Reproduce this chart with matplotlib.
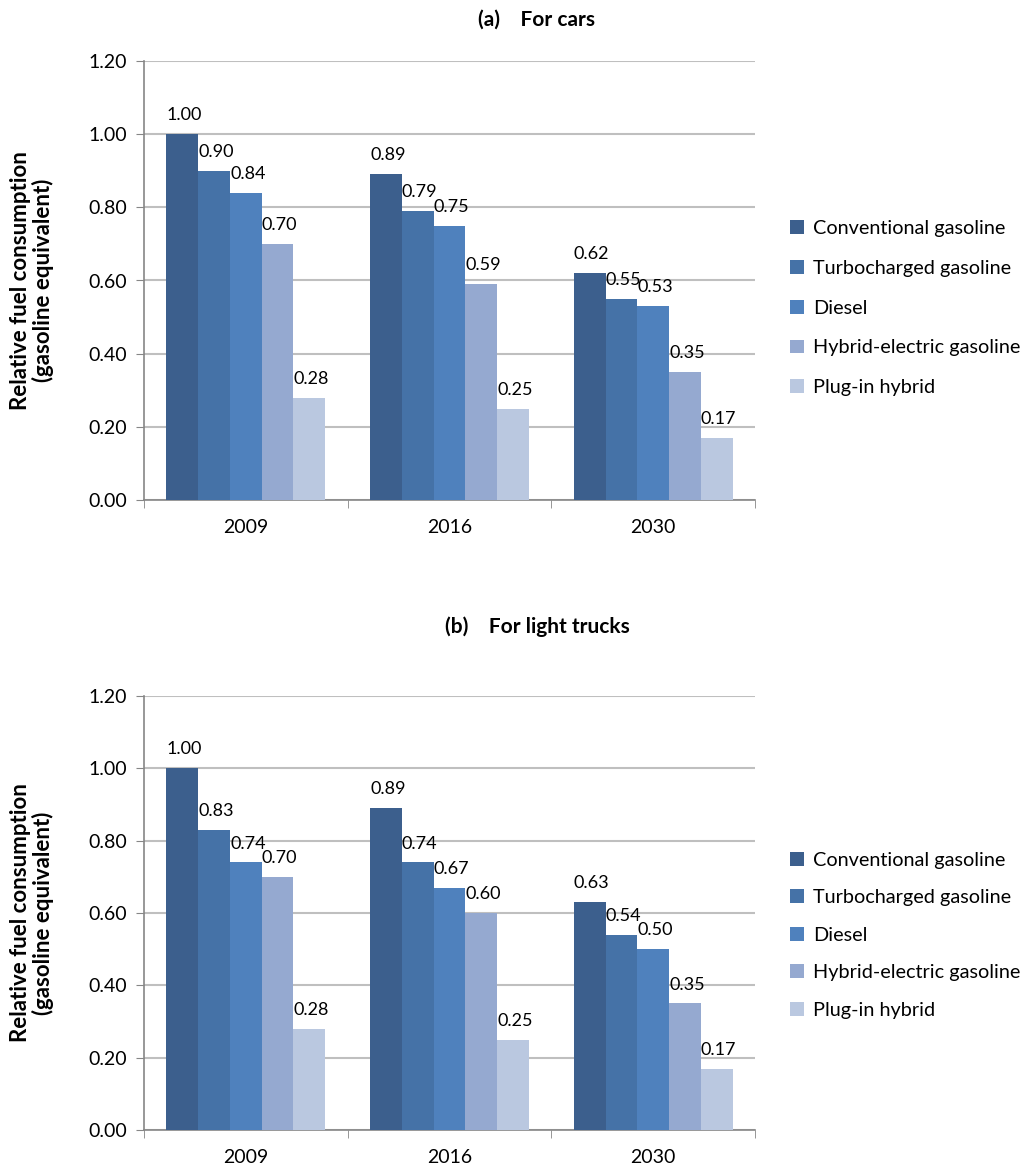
import matplotlib
matplotlib.use("Agg")
import matplotlib.pyplot as plt
import numpy as np
from matplotlib.patches import Patch

plt.rcParams['font.family'] = ['Lato', 'DejaVu Sans']

years = ["2009", "2016", "2030"]
series = ["Conventional gasoline", "Turbocharged gasoline", "Diesel",
          "Hybrid-electric gasoline", "Plug-in hybrid"]
colors = ["#3C5F8D", "#4572A7", "#4F81BD", "#95A9D0", "#BAC8E0"]

cars_conventional = [1.00, 0.89, 0.62]
cars_turbo = [0.90, 0.79, 0.55]
cars_diesel = [0.84, 0.75, 0.53]
cars_hybrid = [0.70, 0.59, 0.35]
cars_plugin = [0.28, 0.25, 0.17]

trucks_conventional = [1.00, 0.89, 0.63]
trucks_turbo = [0.83, 0.74, 0.54]
trucks_diesel = [0.74, 0.67, 0.50]
trucks_hybrid = [0.70, 0.60, 0.35]
trucks_plugin = [0.28, 0.25, 0.17]

yticks = [0.0, 0.2, 0.4, 0.6, 0.8, 1.0, 1.2]

W, H = 1029, 1176
fig = plt.figure(figsize=(W / 100, H / 100), dpi=100)


def draw(ax_rect, data, title, title_y, legend_y, spacing):
    ax = fig.add_axes(ax_rect)
    n = len(data)
    width = 0.156
    x = np.arange(len(years))
    for i, (vals, c, name) in enumerate(zip(data, colors, series)):
        pos = x - width * (n - 1) / 2 + i * width
        bars = ax.bar(pos, vals, width=width, color=c, edgecolor="none",
                      label=name, zorder=3)
        for b, v in zip(bars, vals):
            ax.text(b.get_x() + b.get_width() / 2 + 0.01, v + 0.03,
                    f"{v:.2f}", ha="center", va="bottom", fontsize=13,
                    color="#000000", zorder=4)
    ax.set_xlim(-0.5, len(years) - 0.5)
    ax.set_ylim(0, 1.2)
    ax.set_yticks(yticks)
    ax.set_yticklabels([f"{t:.2f}" for t in yticks], fontsize=14)
    ax.set_xticks(x)
    ax.set_xticklabels(years, fontsize=14)
    ax.set_xticks(np.arange(len(years) + 1) - 0.5, minor=True)
    ax.tick_params(axis="x", which="major", length=0, pad=14)
    ax.tick_params(axis="x", which="minor", length=6, color="#868686", direction="out")
    ax.tick_params(axis="y", which="major", length=6, color="#868686", direction="out", pad=6)
    ax.yaxis.grid(True, color="#BFBFBF", linewidth=1.5, zorder=0)
    ax.set_axisbelow(True)
    for s in ["top", "right"]:
        ax.spines[s].set_visible(False)
    for s in ["left", "bottom"]:
        ax.spines[s].set_color("#868686")
        ax.spines[s].set_linewidth(1.2)
    ax.set_ylabel("Relative fuel consumption\n(gasoline equivalent)",
                  fontsize=16, fontweight="bold", linespacing=1.05)
    ax.yaxis.set_label_coords(-0.148, 0.5)
    fig.text(537 / W, 1 - title_y / H, title, ha="center", va="center",
             fontsize=15, fontweight="bold")
    handles = [Patch(facecolor=c, edgecolor="none") for c in colors]
    fig.legend(handles, series, loc="upper left",
               bbox_to_anchor=(782 / W, 1 - legend_y / H),
               frameon=False, fontsize=14.3, handlelength=0.7,
               handleheight=0.7, handletextpad=0.45, labelspacing=spacing,
               borderaxespad=0)
    return ax


draw([144 / W, 1 - 500 / H, 611 / W, 439 / H],
     [cars_conventional, cars_turbo, cars_diesel, cars_hybrid, cars_plugin],
     "(a)    For cars", 20, 212, 1.15)
draw([144 / W, 1 - 1130 / H, 611 / W, 434 / H],
     [trucks_conventional, trucks_turbo, trucks_diesel, trucks_hybrid, trucks_plugin],
     "(b)    For light trucks", 627, 844, 1.03)

fig.savefig("out.png", dpi=100)
